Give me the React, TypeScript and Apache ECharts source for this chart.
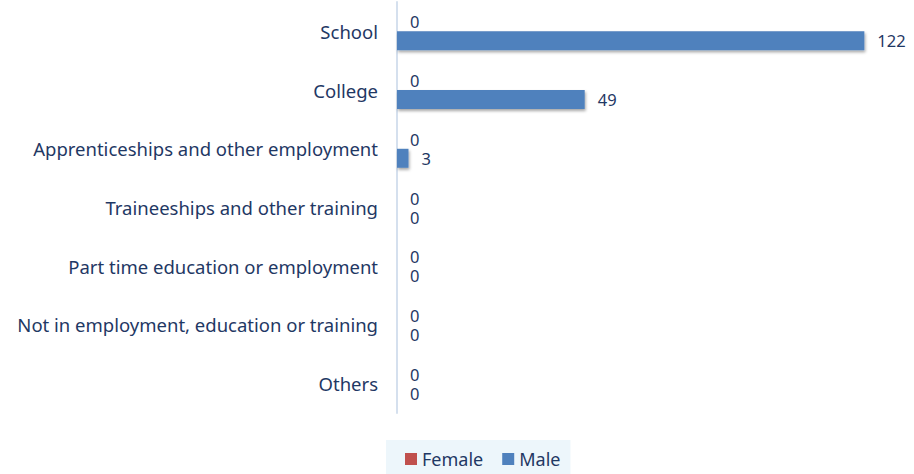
import React, { useEffect, useRef } from "react";
import * as echarts from "echarts";

const categories = [
  "School",
  "College",
  "Apprenticeships and other employment",
  "Traineeships and other training",
  "Part time education or employment",
  "Not in employment, education or training",
  "Others",
];
const femaleValues = [0, 0, 0, 0, 0, 0, 0];
const maleValues = [122, 49, 3, 0, 0, 0, 0];

const TEXT = "#1F3864";
const FONT = "Noto Sans";

export default function App() {
  const ref = useRef<HTMLDivElement>(null);
  useEffect(() => {
    document.body.style.margin = "0";
    const chart = echarts.init(ref.current!, undefined, { renderer: "svg" });
    const shadow = {
      shadowColor: "rgba(0,0,0,0.35)",
      shadowBlur: 3,
      shadowOffsetX: 1,
      shadowOffsetY: 2,
    };
    const label = {
      show: true,
      position: "right",
      distance: 13,
      color: TEXT,
      fontFamily: FONT,
      fontSize: 16.5,
      lineHeight: 17,
    };
    chart.setOption({
      animation: false,
      grid: { left: 397, right: 19, top: 2, bottom: 61 },
      xAxis: {
        type: "value",
        min: 0,
        max: 130,
        show: false,
        splitLine: { show: false },
      },
      yAxis: {
        type: "category",
        data: categories,
        inverse: true,
        axisLine: { show: true, lineStyle: { color: "#D5E0EE", width: 2 } },
        axisTick: { show: false },
        axisLabel: { color: TEXT, fontFamily: FONT, fontSize: 18.5, margin: 19 },
      },
      legend: {
        left: 386,
        top: 440,
        backgroundColor: "#EDF6FB",
        padding: [10, 10, 10, 19],
        itemWidth: 12,
        itemHeight: 12,
        itemGap: 19,
        icon: "rect",
        textStyle: { color: TEXT, fontFamily: FONT, fontSize: 18 },
        data: ["Female", "Male"],
      },
      series: [
        {
          name: "Female",
          type: "bar",
          data: femaleValues,
          barWidth: 19,
          barGap: "0%",
          itemStyle: { color: "#C0504D", ...shadow },
          label,
        },
        {
          name: "Male",
          type: "bar",
          data: maleValues,
          barWidth: 19,
          barGap: "0%",
          itemStyle: { color: "#4F81BD", ...shadow },
          label,
        },
      ],
    });
    return () => chart.dispose();
  }, []);
  return <div ref={ref} style={{ width: 914, height: 474 }} />;
}
